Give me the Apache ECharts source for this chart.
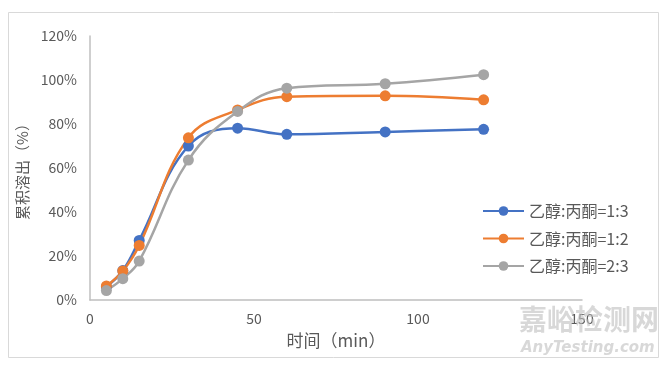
<!DOCTYPE html>
<html>
<head>
<meta charset="utf-8">
<script src="https://cdn.jsdelivr.net/npm/echarts@6/dist/echarts.min.js"></script>
<style>html,body{margin:0;padding:0;background:#fff;}#c{width:667px;height:366px;}</style>
</head>
<body>
<div id="c"></div>
<script>
var times = [5, 10, 15, 30, 45, 60, 90, 120];
var seriesNames = ['乙醇:丙酮=1:3', '乙醇:丙酮=1:2', '乙醇:丙酮=2:3'];
var s13 = [6.0, 13.4, 27.1, 70.0, 78.1, 75.3, 76.4, 77.6];
var s12 = [6.4, 13.2, 24.8, 73.7, 86.4, 92.4, 92.8, 91.0];
var s23 = [4.3, 9.7, 17.7, 63.6, 85.7, 96.3, 98.3, 102.4];
var yTicks = [0, 20, 40, 60, 80, 100, 120];
var xTicks = [0, 50, 100, 150];
var colors = ['#4472C4', '#ED7D31', '#A5A5A5'];
var font = '"Noto Sans CJK SC", "Noto Sans", sans-serif';

function pairs(vals) { return times.map(function (t, i) { return [t, vals[i]]; }); }
var allVals = [s13, s12, s23];

var chart = echarts.init(document.getElementById('c'), null, {renderer: 'canvas'});
chart.setOption({
  animation: false,
  backgroundColor: '#fff',
  textStyle: {fontFamily: font},
  grid: {left: 90, right: 85, top: 36, bottom: 66, containLabel: false},
  xAxis: {
    type: 'value', min: xTicks[0], max: xTicks[xTicks.length - 1], interval: 50,
    name: '时间（min）', nameLocation: 'middle', nameGap: 32,
    nameTextStyle: {fontSize: 17, color: '#595959', fontFamily: font},
    axisLine: {show: true, lineStyle: {color: '#BFBFBF', width: 1.5}},
    axisTick: {show: false},
    splitLine: {show: false},
    axisLabel: {fontSize: 14, color: '#595959', margin: 12, fontFamily: font}
  },
  yAxis: {
    type: 'value', min: yTicks[0], max: yTicks[yTicks.length - 1], interval: 20,
    name: '累积溶出（%）', nameLocation: 'middle', nameGap: 58, nameRotate: 90,
    nameTextStyle: {fontSize: 15, color: '#595959', fontFamily: font},
    axisLine: {show: true, lineStyle: {color: '#BFBFBF', width: 1.5}},
    axisTick: {show: false},
    splitLine: {show: false},
    axisLabel: {fontSize: 14, color: '#595959', margin: 13, formatter: '{value}%', fontFamily: font}
  },
  legend: {
    orient: 'vertical', left: 482, top: 203, padding: 0, itemWidth: 41, itemHeight: 12, itemGap: 11.5,
    textStyle: {fontSize: 16, color: '#595959', fontFamily: font},
    data: seriesNames
  },
  series: seriesNames.map(function (n, i) {
    return {
      name: n, type: 'line', smooth: 0.4, data: pairs(allVals[i]),
      symbol: 'circle', symbolSize: 11,
      lineStyle: {color: colors[i], width: 2.5},
      itemStyle: {color: colors[i]}
    };
  }),
  graphic: [
    {type: 'rect', shape: {x: 8.5, y: 12.5, width: 650, height: 345}, style: {fill: 'none', stroke: '#D9D9D9', lineWidth: 1}, z: -1},
    {type: 'text', left: 519, top: 305, style: {text: '嘉峪检测网', fontSize: 28, fontWeight: 'bold', fill: 'rgba(190,190,190,0.6)', fontFamily: font}, z: 100},
    {type: 'text', left: 521, top: 341, style: {text: 'AnyTesting.com', fontSize: 15, fontStyle: 'italic', fontWeight: 'bold', fill: 'rgba(190,190,190,0.6)', fontFamily: '"DejaVu Sans", sans-serif'}, z: 100}
  ]
});
</script>
</body>
</html>
